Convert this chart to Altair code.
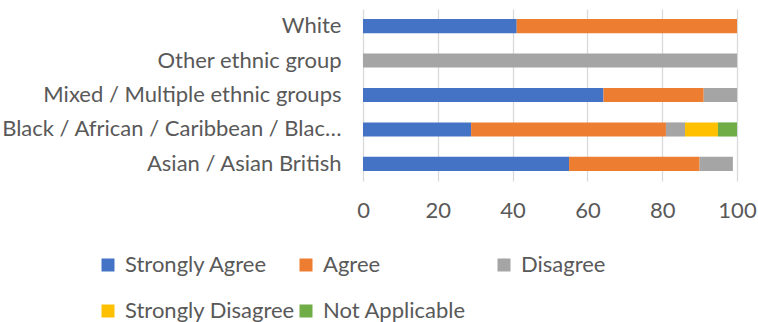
import altair as alt
import pandas as pd

categories = ["White", "Other ethnic group", "Mixed / Multiple ethnic groups",
              "Black / African / Caribbean / Black British", "Asian / Asian British"]
series = ["Strongly Agree", "Agree", "Disagree", "Strongly Disagree", "Not Applicable"]
colors = ["#4472C4", "#ED7D31", "#A5A5A5", "#FFC000", "#70AD47"]

strongly_agree = [41.1, 0, 64.3, 28.9, 55.1]
agree = [58.9, 0, 26.8, 52.1, 34.9]
disagree = [0, 100, 8.9, 5.1, 8.9]
strongly_disagree = [0, 0, 0, 8.8, 0]
not_applicable = [0, 0, 0, 5.1, 0]

values = [strongly_agree, agree, disagree, strongly_disagree, not_applicable]
rows = []
for si, (s, vals) in enumerate(zip(series, values)):
    for c, v in zip(categories, vals):
        rows.append({"group": c, "response": s, "value": v, "order": si})
df = pd.DataFrame(rows)

FONT = "Lato"
TXT = "#595959"

chart = alt.Chart(df).mark_bar().encode(
    y=alt.Y("group:N", sort=categories, title=None,
            scale=alt.Scale(paddingInner=0.59, paddingOuter=0.29),
            axis=alt.Axis(ticks=False, domain=False, labelPadding=22, labelLimit=345,
                          labelFontSize=22, labelFont=FONT, labelColor=TXT)),
    x=alt.X("value:Q", stack="zero", title=None,
            scale=alt.Scale(domain=[0, 100], nice=False),
            axis=alt.Axis(values=[0, 20, 40, 60, 80, 100], ticks=False, domain=False,
                          labelFlush=False,
                          labelPadding=19, labelFontSize=22, labelFont=FONT, labelColor=TXT,
                          gridColor="#D9D9D9", gridWidth=1.3)),
    color=alt.Color("response:N", scale=alt.Scale(domain=series, range=colors),
                    legend=alt.Legend(title=None, orient="none", legendX=-266, legendY=245,
                                      direction="horizontal",
                                      columns=3, gridAlign="all", columnPadding=-14,
                                      rowPadding=24, symbolType="square", symbolSize=169,
                                      symbolStrokeWidth=0, labelOffset=6, labelLimit=250,
                                      labelFontSize=22, labelFont=FONT, labelColor=TXT)),
    order=alt.Order("order:Q"),
).properties(
    width=374, height=172,
    autosize=alt.AutoSizeParams(type="none"),
    padding={"left": 363, "top": 9, "right": 21, "bottom": 141},
).configure_view(stroke=None)

chart.save("out.html", embed_options={"renderer": "svg", "actions": False})
